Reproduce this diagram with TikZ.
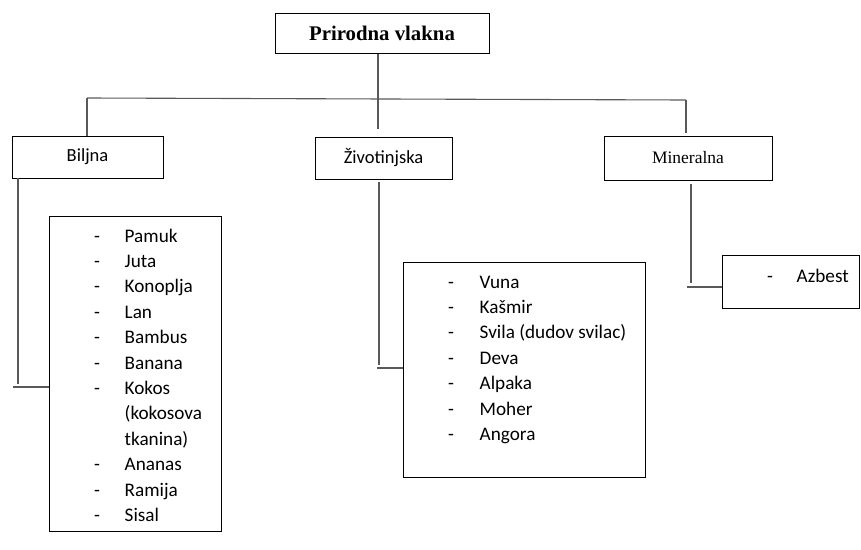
\documentclass[tikz,border=0pt]{standalone}
\usepackage{fontspec}
\setmainfont{Liberation Serif}
\newfontfamily\calfont{Carlito}
\begin{document}
\begin{tikzpicture}[x=1pt,y=-1pt,
  box/.style={draw=black,line width=1pt,rectangle,inner sep=0pt},
  conn/.style={draw=black!65,line width=1.1pt},
  hdr/.style={font=\calfont\fontsize{18.5}{22}\selectfont},
  lst/.style={font=\calfont\fontsize{19.2}{25.4}\selectfont,align=left,inner sep=0pt,anchor=base west}]
\useasboundingbox (0,0) rectangle (861,549);
% boxes
\node[box,minimum width=214pt,minimum height=40pt,font=\bfseries\fontsize{20.8}{24}\selectfont] (top) at (382,33) {Prirodna vlakna};
\node[box,hdr,minimum width=151pt,minimum height=42pt] (bil) at (87.5,157) {Biljna};
\node[box,hdr,minimum width=137pt,minimum height=42pt] (ziv) at (383.5,158) {Životinjska};
\node[box,minimum width=168pt,minimum height=44pt,font=\fontsize{17.5}{21}\selectfont] (min) at (688,158) {Mineralna};
\node[box,minimum width=172pt,minimum height=315pt] (bl) at (135,373.5) {};
\node[box,minimum width=242pt,minimum height=215pt] (zl) at (524,369.5) {};
\node[box,minimum width=137pt,minimum height=53pt] (al) at (790.5,281.5) {};
% list texts (anchored at the baseline of the last line)
\node[lst] (blt) at (94,521.5) {\makebox[30.5pt][l]{-}Pamuk\\
\makebox[30.5pt][l]{-}Juta\\
\makebox[30.5pt][l]{-}Konoplja\\
\makebox[30.5pt][l]{-}Lan\\
\makebox[30.5pt][l]{-}Bambus\\
\makebox[30.5pt][l]{-}Banana\\
\makebox[30.5pt][l]{-}Kokos\\
\makebox[30.5pt][l]{}(kokosova\\
\makebox[30.5pt][l]{}tkanina)\\
\makebox[30.5pt][l]{-}Ananas\\
\makebox[30.5pt][l]{-}Ramija\\
\makebox[30.5pt][l]{-}Sisal};
\node[lst] (zlt) at (448,440.5) {\makebox[31.5pt][l]{-}Vuna\\
\makebox[31.5pt][l]{-}Kašmir\\
\makebox[31.5pt][l]{-}Svila (dudov svilac)\\
\makebox[31.5pt][l]{-}Deva\\
\makebox[31.5pt][l]{-}Alpaka\\
\makebox[31.5pt][l]{-}Moher\\
\makebox[31.5pt][l]{-}Angora};
\node[lst] (alt) at (767,282) {\makebox[29.5pt][l]{-}Azbest};
% coordinates
\coordinate (hl) at (87,98);
\coordinate (hm) at (378,99);
\coordinate (hr) at (686,100);
\coordinate (zend) at (378,129);
\coordinate (rend) at (686,133);
\coordinate (bv1) at (18,178);
\coordinate (bv2) at (18,384);
\coordinate (bh) at (13,387);
\coordinate (zv1) at (379,182);
\coordinate (zv2) at (379,365);
\coordinate (zh) at (377,368);
\coordinate (mv1) at (691,184);
\coordinate (mv2) at (691,283);
\coordinate (mh) at (687,287);
% connectors
\draw[conn] (top.south -| hm) -- (zend);
\draw[conn] (hl) -- (hr);
\draw[conn] (hl) -- (bil.north -| hl);
\draw[conn] (hr) -- (rend);
\draw[conn] (bv1) -- (bv2);
\draw[conn] (bh) -- (bh -| bl.west);
\draw[conn] (zv1) -- (zv2);
\draw[conn] (zh) -- (zh -| zl.west);
\draw[conn] (mv1) -- (mv2);
\draw[conn] (mh) -- (mh -| al.west);
\end{tikzpicture}
\end{document}
